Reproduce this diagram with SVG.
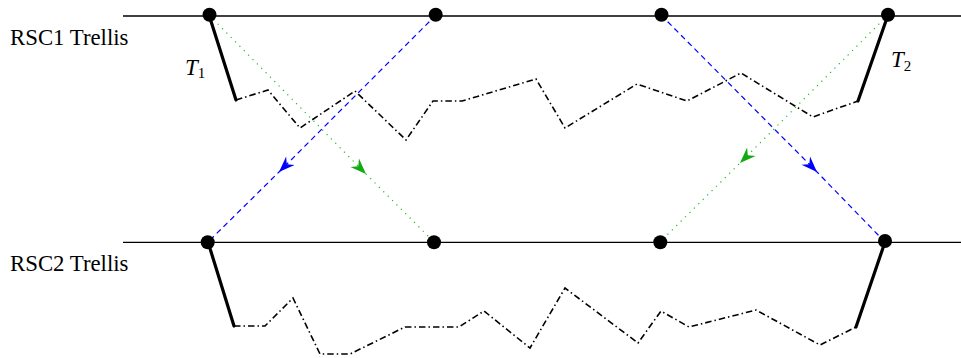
<svg xmlns="http://www.w3.org/2000/svg" width="961" height="358" viewBox="0 0 961 358">
<style>
.axis{stroke:#000;stroke-width:1.3;fill:none}
.node{fill:#000}
.thick{stroke:#000;stroke-width:3.2;fill:none;stroke-linecap:round}
.dd{stroke:#000;stroke-width:1.6;fill:none;stroke-dasharray:6.5,3,1.5,3;stroke-linejoin:miter}
.blue{stroke:#0000ff;stroke-width:1.2;fill:none;stroke-dasharray:5.5,4}
.green{stroke:#22bb22;stroke-width:1.2;fill:none;stroke-dasharray:1.2,5}
.lbl{font-family:"Liberation Serif","Times New Roman",serif;font-size:22.8px;fill:#000}
.math{font-family:"Liberation Serif","Times New Roman",serif;font-style:italic;font-size:23px;fill:#000}
.sub{font-family:"Liberation Serif","Times New Roman",serif;font-size:15px;fill:#000}
</style>
<defs>
<marker id="ab" viewBox="-17 -7 18 14" refX="0" refY="0" markerWidth="18" markerHeight="14" markerUnits="userSpaceOnUse" orient="auto">
<path d="M0,0 L-16,-6 L-11,0 L-16,6 Z" fill="#0000ff"/>
</marker>
<marker id="ag" viewBox="-17 -7 18 14" refX="0" refY="0" markerWidth="18" markerHeight="14" markerUnits="userSpaceOnUse" orient="auto">
<path d="M0,0 L-16,-6 L-11,0 L-16,6 Z" fill="#11aa11"/>
</marker>
</defs>
<g id="trellis-lines">
<line class="axis" x1="123" y1="16" x2="961" y2="16"/>
<line class="axis" x1="123" y1="242.3" x2="961" y2="242.3"/>
</g>
<g id="labels">
<text class="lbl" x="10" y="45">RSC1 Trellis</text>
<text class="lbl" x="10" y="271">RSC2 Trellis</text>
<text class="math" x="185" y="75">T<tspan class="sub" font-style="normal" dy="3">1</tspan></text>
<text class="math" x="891" y="67">T<tspan class="sub" font-style="normal" dy="4">2</tspan></text>
</g>
<g id="paths">
<path class="thick" d="M209,15 L236,100"/>
<path class="dd" d="M236,100 L268,90 L300,128 L355,91 L406,140 L433,101 L462,101 L536,79 L565,128 L637,84 L687,101 L741,73 L813,117 L858,101"/>
<path class="thick" d="M858,101 L888,15"/>
<path class="thick" d="M208,242 L234,326"/>
<path class="dd" d="M234,326 L265,326 L293,298 L320,354 L350,354 L405,327 L459,327 L484,311 L530,348 L565,288 L638,343 L661,311 L689,327 L756,310 L820,345 L856,327"/>
<path class="thick" d="M856,327 L885,242"/>
</g>
<g id="connectors">
<path class="blue" d="M436,15 L279,172 L208,242" marker-mid="url(#ab)"/>
<path class="green" d="M209,15 L366,174 L434,242" marker-mid="url(#ag)"/>
<path class="green" d="M888,15 L740,163 L660,242" marker-mid="url(#ag)"/>
<path class="blue" d="M661,15 L817,172 L885,242" marker-mid="url(#ab)"/>
</g>
<g id="n-top-1"><circle class="node" cx="209.5" cy="14.7" r="7"/></g>
<g id="n-top-2"><circle class="node" cx="435.7" cy="14.7" r="7"/></g>
<g id="n-top-3"><circle class="node" cx="661.5" cy="14.7" r="7"/></g>
<g id="n-top-4"><circle class="node" cx="888" cy="14.7" r="7"/></g>
<g id="n-bot-1"><circle class="node" cx="207.7" cy="242.3" r="7"/></g>
<g id="n-bot-2"><circle class="node" cx="434" cy="242.3" r="7"/></g>
<g id="n-bot-3"><circle class="node" cx="660.3" cy="242.3" r="7"/></g>
<g id="n-bot-4"><circle class="node" cx="885" cy="241" r="7"/></g>
</svg>
